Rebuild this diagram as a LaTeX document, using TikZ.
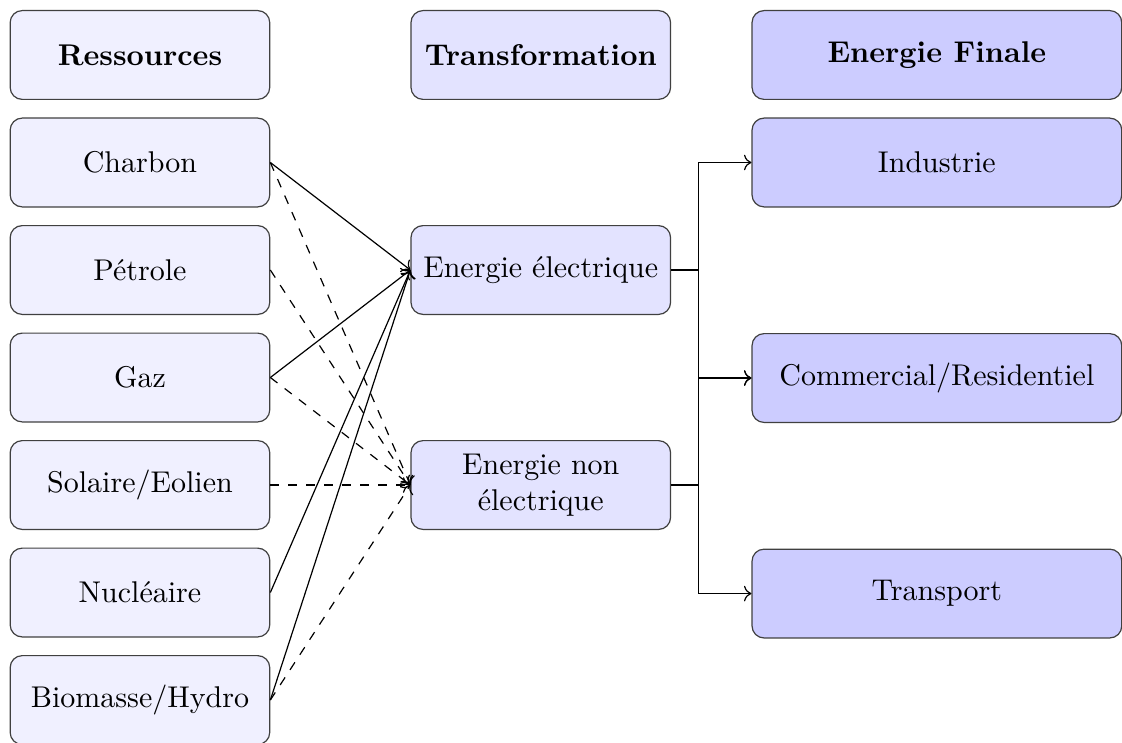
\documentclass[tikz,border=0pt]{standalone}
\usetikzlibrary{positioning, arrows.meta}

\begin{document}
\begin{tikzpicture}[
    node distance=0.205cm and 1.64cm,
    ressource/.style={rectangle, draw=black!75, fill=blue!6, minimum width=3.04cm, minimum height=1.04cm, rounded corners=4pt},
    transfo/.style={rectangle, draw=black!75, fill=blue!11, minimum width=3.04cm, minimum height=1.04cm, rounded corners=4pt, align=center},
    finale/.style={rectangle, draw=black!75, fill=blue!20, minimum width=4.33cm, minimum height=1.04cm, rounded corners=4pt},
    titre/.style={font=\bfseries}
]

\useasboundingbox (0,0) rectangle (13.14,-8.69);

% Ressources
\node[ressource, titre] (ressources) at (1.639,-0.644) {Ressources};
\node[ressource, below=of ressources] (charbon) {Charbon};
\node[ressource, below=of charbon] (petrole) {Pétrole};
\node[ressource, below=of petrole] (gaz) {Gaz};
\node[ressource, below=of gaz] (solaire) {Solaire/Eolien};
\node[ressource, below=of solaire] (nucleaire) {Nucléaire};
\node[ressource, below=of nucleaire] (biomasse) {Biomasse/Hydro};

% Transformation
\node[transfo, titre, right=of ressources] (transformation) {Transformation};
\node[transfo, right=of petrole] (elec) {Energie électrique};
\node[transfo, right=of solaire] (nonelec) {Energie non\\électrique};

% Energie finale
\node[finale, titre, right=0.94cm of transformation] (energiefinale) {Energie Finale};
\node[finale, below=of energiefinale] (industrie) {Industrie};
\node[finale, below=1.47cm of industrie] (commercial) {Commercial/Residentiel};
\node[finale, below=1.47cm of commercial] (transport) {Transport};

% Ressources vers energie electrique
\foreach \src in {charbon, gaz, nucleaire, biomasse}
{
    \draw[->] (\src.east) -- (elec.west);
}

% Ressources vers energie non electrique
\foreach \src in {charbon, petrole, gaz, solaire, biomasse}
{
    \draw[->, dashed] (\src.east) -- (nonelec.west);
}

% Transformation vers energie finale
\draw[->] (elec.east) -- ++(0.316,0) |- (industrie.west);
\draw[->] (elec.east) -- ++(0.316,0) |- (commercial.west);
\draw[->] (nonelec.east) -- ++(0.316,0) |- (commercial.west);
\draw[->] (nonelec.east) -- ++(0.316,0) |- (transport.west);

\end{tikzpicture}
\end{document}
